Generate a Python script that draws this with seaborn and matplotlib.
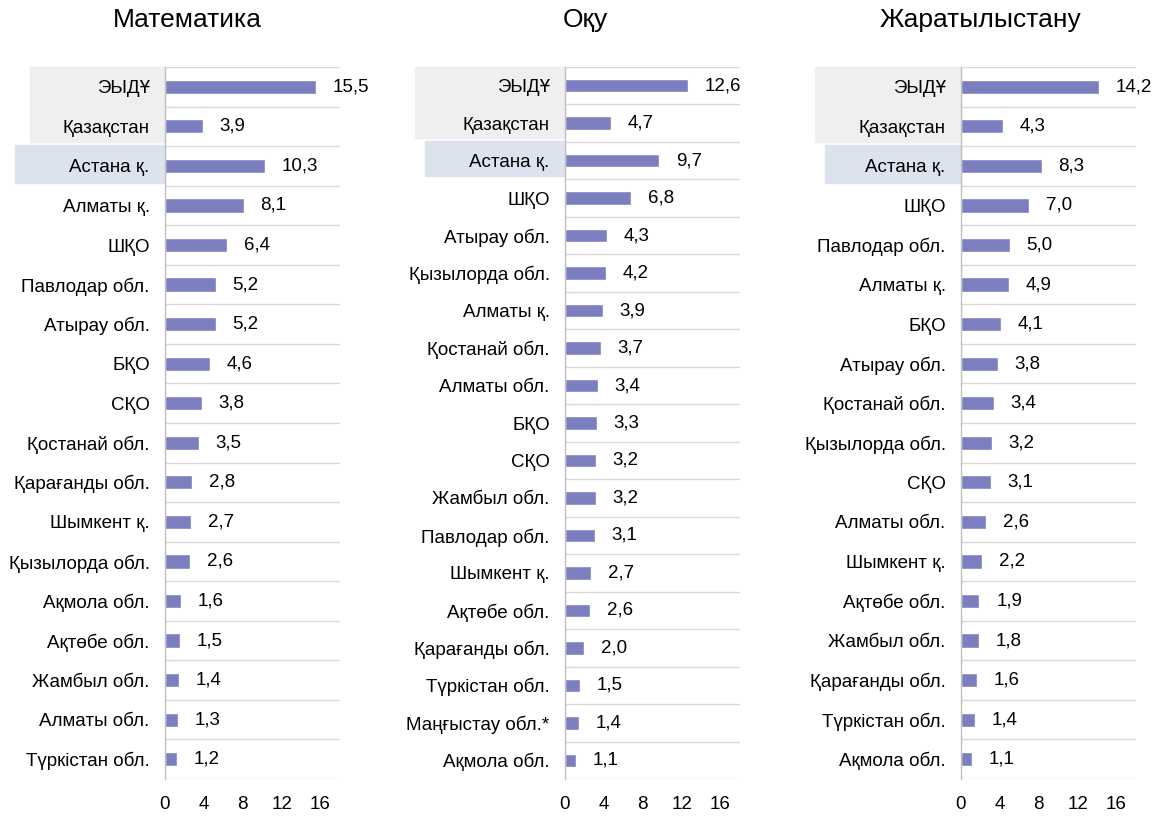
import numpy as np
import matplotlib
matplotlib.use("Agg")
import matplotlib.pyplot as plt
import matplotlib.transforms as mtransforms
from matplotlib.patches import Rectangle
import seaborn as sns
import pandas as pd

# --- data ---
math_regions = ["ЭЫДҰ", "Қазақстан", "Астана қ.", "Алматы қ.", "ШҚО", "Павлодар обл.",
                "Атырау обл.", "БҚО", "СҚО", "Қостанай обл.", "Қарағанды обл.",
                "Шымкент қ.", "Қызылорда обл.", "Ақмола обл.", "Ақтөбе обл.",
                "Жамбыл обл.", "Алматы обл.", "Түркістан обл."]
math_values = [15.5, 3.9, 10.3, 8.1, 6.4, 5.2, 5.2, 4.6, 3.8, 3.5, 2.8, 2.7, 2.6,
               1.6, 1.5, 1.4, 1.3, 1.2]

read_regions = ["ЭЫДҰ", "Қазақстан", "Астана қ.", "ШҚО", "Атырау обл.", "Қызылорда обл.",
                "Алматы қ.", "Қостанай обл.", "Алматы обл.", "БҚО", "СҚО",
                "Жамбыл обл.", "Павлодар обл.", "Шымкент қ.", "Ақтөбе обл.",
                "Қарағанды обл.", "Түркістан обл.", "Маңғыстау обл.*", "Ақмола обл."]
read_values = [12.6, 4.7, 9.7, 6.8, 4.3, 4.2, 3.9, 3.7, 3.4, 3.3, 3.2, 3.2, 3.1,
               2.7, 2.6, 2.0, 1.5, 1.4, 1.1]

sci_regions = ["ЭЫДҰ", "Қазақстан", "Астана қ.", "ШҚО", "Павлодар обл.", "Алматы қ.",
               "БҚО", "Атырау обл.", "Қостанай обл.", "Қызылорда обл.", "СҚО",
               "Алматы обл.", "Шымкент қ.", "Ақтөбе обл.", "Жамбыл обл.",
               "Қарағанды обл.", "Түркістан обл.", "Ақмола обл."]
sci_values = [14.2, 4.3, 8.3, 7.0, 5.0, 4.9, 4.1, 3.8, 3.4, 3.2, 3.1, 2.6, 2.2,
              1.9, 1.8, 1.6, 1.4, 1.1]

titles = ["Математика", "Оқу", "Жаратылыстану"]
x_ticks = [0, 4, 8, 12, 16]

sns.set_theme(style="white")
plt.rcParams['font.family'] = ['Liberation Sans', 'DejaVu Sans']
plt.rcParams['text.color'] = 'black'
plt.rcParams['xtick.color'] = 'black'
plt.rcParams['ytick.color'] = 'black'

bar_color = '#7b7fbf'
grid_color = '#d9d9d9'
grey_box = '#efefef'
blue_box = '#dce3ee'

fig = plt.figure(figsize=(11.52, 8.16), dpi=100)
W, H = 1152, 816

# axes left edge (px), grey box left (px), blue box left (px), title center (px)
panels = [
    (math_regions, math_values, 165, 30, 15, 187),
    (read_regions, read_values, 565, 415, 425, 585),
    (sci_regions, sci_values, 961, 815, 825, 980),
]
ax_w = 175
top_px, bot_px = 67, 779

for (regions, values, left, gl, bl, tc), title in zip(panels, titles):
    ax = fig.add_axes([left / W, (H - bot_px) / H, ax_w / W, (bot_px - top_px) / H])
    df = pd.DataFrame({"region": regions, "value": values})
    n = len(regions)
    sns.barplot(data=df, x="value", y="region", orient="h", color=bar_color,
                saturation=1, width=0.36, ax=ax)
    ax.set_xlim(0, 18)
    ax.set_ylim(n - 0.5, -0.5)
    ax.set_xticks(x_ticks)
    ax.set_xticklabels([str(t) for t in x_ticks], fontsize=13.5)
    ax.set_xlabel("")
    ax.set_ylabel("")
    ax.tick_params(axis='y', length=0, pad=11, labelsize=13.5)
    ax.tick_params(axis='x', length=0, pad=12)
    ax.set_yticks(np.arange(-0.5, n), minor=True)
    ax.grid(axis='y', which='minor', color=grid_color, lw=1)
    ax.grid(axis='y', which='major', visible=False)
    ax.tick_params(axis='y', which='minor', length=0)
    for s in ['top', 'right', 'bottom']:
        ax.spines[s].set_visible(False)
    ax.spines['left'].set_color('#bfbfbf')
    ax.spines['left'].set_linewidth(1)

    labels = [f"{v:.1f}".replace('.', ',') for v in values]
    ax.bar_label(ax.containers[0], labels=labels, padding=12, fontsize=13.5,
                 color='black')

    # highlight boxes behind labels
    trans = mtransforms.blended_transform_factory(ax.transAxes, ax.transData)
    g0 = (gl - left) / ax_w
    b0 = (bl - left) / ax_w
    ax.add_patch(Rectangle((g0, -0.5), -g0, 1.9, transform=trans, color=grey_box,
                           clip_on=False, zorder=-5))
    ax.add_patch(Rectangle((b0, 1.47), -b0, 0.95, transform=trans, color=blue_box,
                           clip_on=False, zorder=-5))
    ax.set_facecolor('none')

    fig.text(tc / W, 1 - 20 / H, title, ha='center', va='center', fontsize=19)

fig.savefig("out.png", dpi=100)
